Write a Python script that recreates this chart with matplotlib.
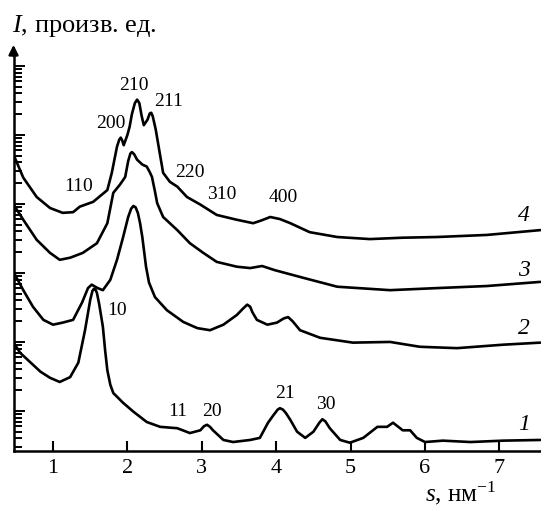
import numpy as np
import matplotlib
matplotlib.use("Agg")
import matplotlib.pyplot as plt
from matplotlib.ticker import LogLocator, NullFormatter, FixedLocator

plt.rcParams['font.family'] = ['Liberation Serif', 'DejaVu Serif']
plt.rcParams['mathtext.fontset'] = 'custom'
plt.rcParams['mathtext.rm'] = 'Liberation Serif'
plt.rcParams['mathtext.it'] = 'Liberation Serif:italic'

# ---- data (s in nm^-1, lg of intensity in arbitrary units) ----
s1 = [0.47, 0.56, 0.69, 0.83, 0.96, 1.09, 1.23, 1.34, 1.43, 1.47, 1.50, 1.53, 1.55, 1.57, 1.59, 1.62,
      1.67, 1.70, 1.73, 1.77, 1.81, 1.94,
      2.08, 2.26, 2.44, 2.67, 2.84, 2.98, 3.03, 3.07, 3.11, 3.15, 3.29, 3.42, 3.65, 3.78, 3.89, 3.97, 4.02,
      4.05, 4.09, 4.13, 4.19, 4.28, 4.39, 4.50, 4.58, 4.62, 4.66, 4.72, 4.86, 4.99, 5.17, 5.36, 5.49,
      5.57, 5.70, 5.80, 5.89, 6.00, 6.24, 6.61, 7.05, 7.55]
lg1 = [0.99, 0.84, 0.71, 0.57, 0.48, 0.42, 0.49, 0.70, 1.17, 1.42, 1.61, 1.74, 1.77, 1.76, 1.71, 1.55,
       1.22, 0.88, 0.59, 0.38, 0.26, 0.12,
       -0.01, -0.16, -0.23, -0.25, -0.32, -0.28, -0.22, -0.20, -0.23, -0.28, -0.42, -0.45, -0.42, -0.39,
       -0.17, -0.05, 0.02, 0.04, 0.02, -0.03, -0.13, -0.30, -0.39, -0.30, -0.17, -0.12, -0.15, -0.25,
       -0.42, -0.46, -0.39, -0.23, -0.23, -0.17, -0.28, -0.28, -0.39, -0.45, -0.43, -0.45, -0.43, -0.42]

s2 = [0.47, 0.60, 0.73, 0.87, 1.00, 1.13, 1.27, 1.39, 1.47, 1.52, 1.60, 1.67, 1.77, 1.86, 1.94, 2.01,
      2.05, 2.08, 2.11, 2.14, 2.17, 2.20, 2.25, 2.29, 2.37, 2.53, 2.75, 2.94, 3.11, 3.29, 3.47, 3.56,
      3.61, 3.65, 3.68, 3.74, 3.88, 4.01, 4.10, 4.16, 4.22, 4.32, 4.59, 5.03, 5.53, 5.93, 6.43, 7.05, 7.55]
lg2 = [2.01, 1.75, 1.51, 1.32, 1.25, 1.28, 1.32, 1.57, 1.78, 1.83, 1.78, 1.75, 1.90, 2.19, 2.51, 2.81,
       2.93, 2.97, 2.95, 2.87, 2.72, 2.52, 2.09, 1.86, 1.65, 1.46, 1.29, 1.20, 1.17, 1.25, 1.39, 1.49,
       1.54, 1.51, 1.43, 1.32, 1.25, 1.28, 1.34, 1.36, 1.30, 1.17, 1.06, 0.99, 1.00, 0.93, 0.91, 0.96, 0.99]

s3 = [0.47, 0.60, 0.78, 0.96, 1.09, 1.23, 1.40, 1.59, 1.73, 1.81, 1.90, 1.97, 2.01, 2.04, 2.06, 2.09,
      2.13, 2.20, 2.26, 2.30, 2.33, 2.37, 2.40, 2.48, 2.67, 2.84, 3.02, 3.20, 3.47, 3.65, 3.81, 3.98,
      4.36, 4.82, 5.53, 6.16, 6.83, 7.55]
lg3 = [2.99, 2.77, 2.48, 2.29, 2.19, 2.22, 2.29, 2.43, 2.72, 3.16, 3.28, 3.39, 3.62, 3.73, 3.75, 3.72,
       3.64, 3.57, 3.54, 3.46, 3.39, 3.18, 3.01, 2.81, 2.62, 2.43, 2.29, 2.16, 2.09, 2.07, 2.10, 2.04,
       1.93, 1.80, 1.75, 1.78, 1.81, 1.87]

s4 = [0.47, 0.60, 0.78, 0.96, 1.13, 1.27, 1.36, 1.54, 1.73, 1.79, 1.86, 1.89, 1.91, 1.93, 1.95, 2.00,
      2.03, 2.06, 2.10, 2.13, 2.16, 2.19, 2.22, 2.27, 2.30, 2.32, 2.34, 2.38, 2.44, 2.48, 2.57, 2.67,
      2.80, 2.98, 3.20, 3.47, 3.69, 3.80, 3.92, 4.05, 4.19, 4.45, 4.82, 5.26, 5.70, 6.16, 6.83, 7.55]
lg4 = [3.71, 3.38, 3.10, 2.94, 2.87, 2.88, 2.96, 3.03, 3.20, 3.45, 3.83, 3.93, 3.96, 3.92, 3.85, 4.00,
       4.12, 4.30, 4.46, 4.51, 4.46, 4.28, 4.14, 4.22, 4.31, 4.32, 4.27, 4.08, 3.70, 3.45, 3.32, 3.25,
       3.10, 2.99, 2.84, 2.77, 2.72, 2.76, 2.81, 2.78, 2.72, 2.59, 2.52, 2.49, 2.51, 2.52, 2.55, 2.62]

curve_labels = ["1", "2", "3", "4"]
curve_label_lg = [-0.19, 1.20, 2.04, 2.83]

peak_labels = ["110", "200", "210", "211", "220", "310", "400", "10", "11", "20", "21", "30"]
peak_s = [1.34, 1.77, 2.09, 2.55, 2.84, 3.27, 4.09, 1.86, 2.67, 3.14, 4.12, 4.66]
peak_lg = [3.25, 4.17, 4.71, 4.48, 3.46, 3.13, 3.09, 1.46, -0.01, -0.01, 0.26, 0.09]

x_ticks = [1, 2, 3, 4, 5, 6, 7]

# ---- figure ----
fig = plt.figure(figsize=(5.41, 5.08), dpi=100)
ax = fig.add_axes([0.025, 0.1122, 0.975, 0.7854])

for s, lg in [(s1, lg1), (s2, lg2), (s3, lg3), (s4, lg4)]:
    ax.plot(s, 10 ** np.array(lg), color='black', lw=1.9,
            solid_joinstyle='round', solid_capstyle='round')

ax.set_yscale('log')
ax.set_xlim(0.469, 7.559)
ax.set_ylim(10 ** -0.58, 10 ** 5.2)

ax.yaxis.set_major_locator(LogLocator(base=10, numticks=20))
ax.yaxis.set_minor_locator(LogLocator(base=10, subs=np.arange(2, 10), numticks=20))
ax.yaxis.set_major_formatter(NullFormatter())
ax.yaxis.set_minor_formatter(NullFormatter())
ax.xaxis.set_major_locator(FixedLocator(x_ticks))
ax.set_xticklabels([str(t) for t in x_ticks])

ax.tick_params(axis='x', which='major', direction='in', length=7, width=1.5, labelsize=16, pad=6)
ax.tick_params(axis='y', which='major', direction='in', length=8, width=1.4)
ax.tick_params(axis='y', which='minor', direction='in', length=5.5, width=1.4)

for side in ['top', 'right']:
    ax.spines[side].set_visible(False)
for side in ['left', 'bottom']:
    ax.spines[side].set_linewidth(1.8)

ax.annotate('', xy=(0, 1.018), xytext=(0, 0.99), xycoords='axes fraction',
            arrowprops=dict(arrowstyle='-|>', color='black', lw=1.8, mutation_scale=14,
                            shrinkA=0, shrinkB=0), annotation_clip=False)

for lab, lg in zip(curve_labels, curve_label_lg):
    ax.text(7.33, 10 ** lg, lab, fontsize=17, style='italic', ha='center', va='center')

for lab, s, lg in zip(peak_labels, peak_s, peak_lg):
    ax.text(s, 10 ** lg, lab, fontsize=14, ha='center', va='center')

fig.text(12 / 541, 1 - 26 / 508, '$I$, произв. ед.', fontsize=19, ha='left', va='center')
fig.text(425 / 541, 1 / 508, '$s$, нм$^{-1}$', fontsize=18, ha='left', va='bottom')

fig.savefig('out.png', dpi=100)
